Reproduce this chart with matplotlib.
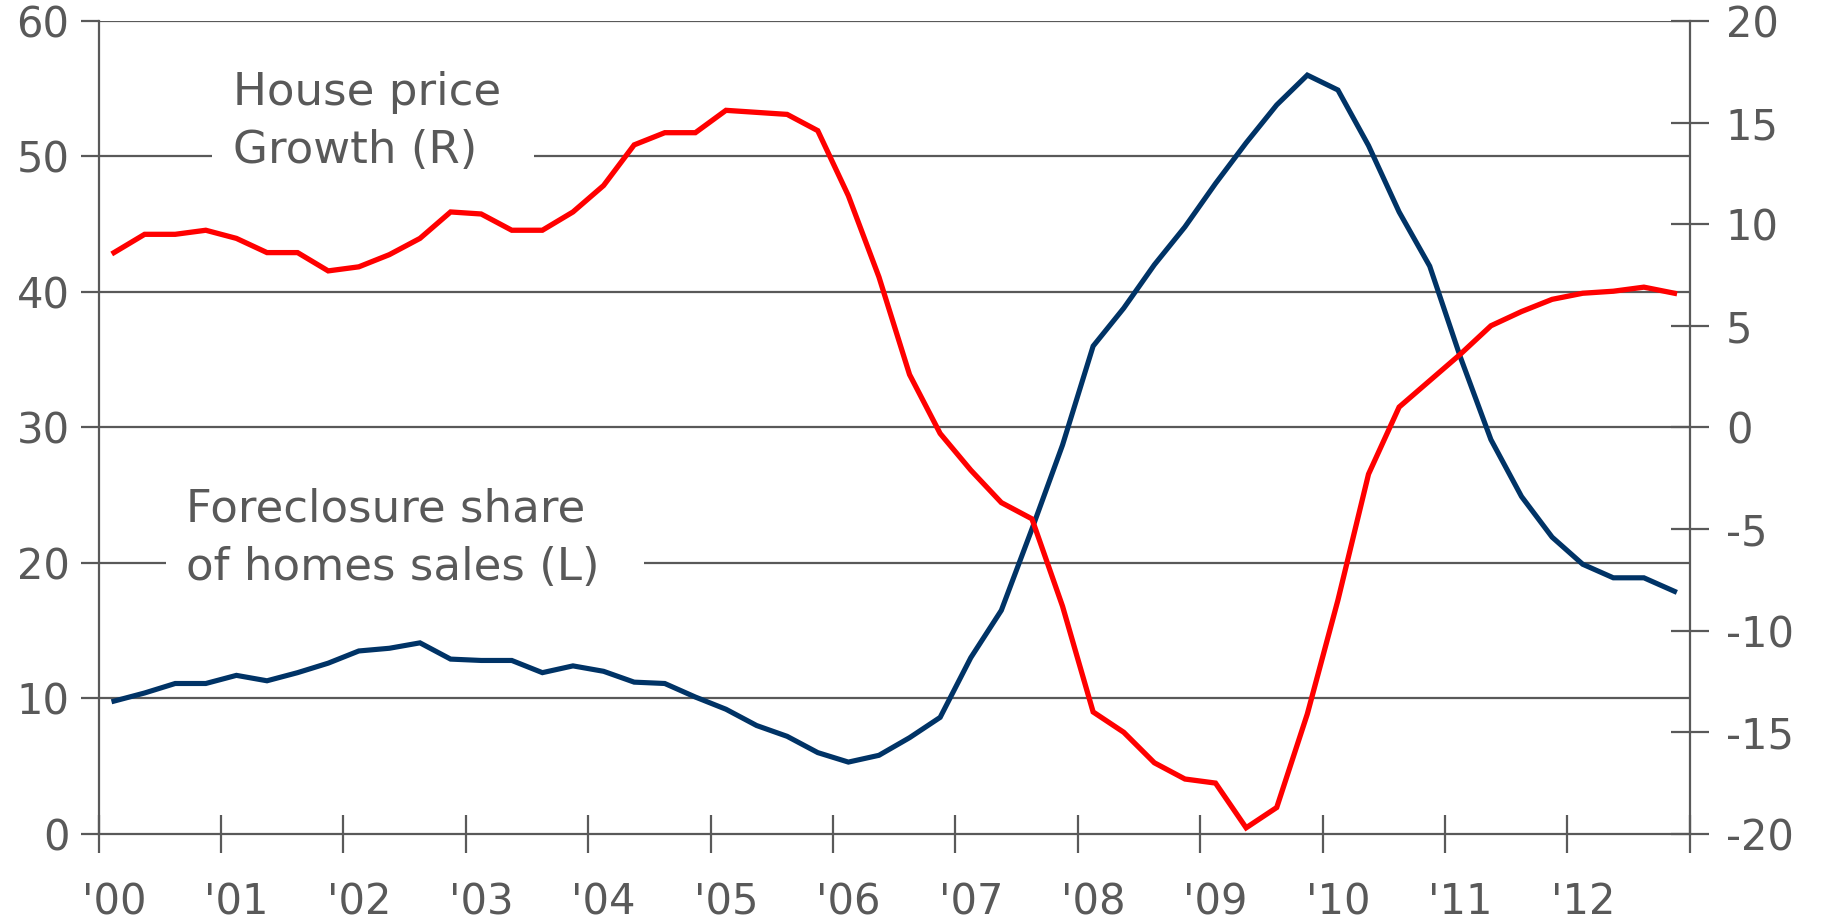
import matplotlib
matplotlib.use("Agg")
import matplotlib.pyplot as plt
from matplotlib.patches import Rectangle
import numpy as np

# ---- data (quarterly, 2000Q1 .. 2012Q4) ----
year_labels = ["'00", "'01", "'02", "'03", "'04", "'05", "'06",
               "'07", "'08", "'09", "'10", "'11", "'12"]

foreclosure_share = [
    9.8, 10.4, 11.1, 11.1, 11.7, 11.3, 11.9, 12.6,
    13.5, 13.7, 14.1, 12.9, 12.8, 12.8, 11.9, 12.4,
    12.0, 11.2, 11.1, 10.1, 9.2, 8.0, 7.2, 6.0,
    5.3, 5.8, 7.1, 8.6, 13.0, 16.5, 22.5, 28.7,
    36.0, 38.8, 42.0, 44.8, 48.0, 51.0, 53.8, 56.0,
    54.9, 50.8, 45.9, 41.9, 35.2, 29.1, 24.9, 21.9,
    19.9, 18.9, 18.9, 17.9,
]

house_price_growth = [
    8.6, 9.5, 9.5, 9.7, 9.3, 8.6, 8.6, 7.7,
    7.9, 8.5, 9.3, 10.6, 10.5, 9.7, 9.7, 10.6,
    11.9, 13.9, 14.5, 14.5, 15.6, 15.5, 15.4, 14.6,
    11.4, 7.4, 2.6, -0.3, -2.1, -3.7, -4.5, -8.8,
    -14.0, -15.0, -16.5, -17.3, -17.5, -19.7, -18.7, -14.1,
    -8.5, -2.3, 1.0, 2.3, 3.6, 5.0, 5.7, 6.3,
    6.6, 6.7, 6.9, 6.6,
]

left_ticks = [0, 10, 20, 30, 40, 50, 60]
right_ticks = [-20, -15, -10, -5, 0, 5, 10, 15, 20]

label_house = "House price\nGrowth (R)"
label_fore = "Foreclosure share\nof homes sales (L)"

# ---- style ----
GRAY = "#595959"
TXT = "#595959"
RED = "#FF0000"
BLUE = "#003366"
plt.rcParams["font.family"] = ["DejaVu Sans"]

W, H, DPI = 1821, 921, 100
fig = plt.figure(figsize=(W / DPI, H / DPI), dpi=DPI)
ax = fig.add_axes([98.7 / W, 1 - 833.9 / H, (1689.8 - 98.7) / W, (833.9 - 20.9) / H])
ax2 = ax.twinx()

n = len(foreclosure_share)
x = np.arange(n)

# grid (left axis values)
for v in left_ticks[1:]:
    ax.axhline(v, color=GRAY, lw=1.6, zorder=1)

# white gaps in gridlines behind the labels
ax.add_patch(Rectangle((0.0715, 0.80), 0.2022, 0.07, transform=ax.transAxes,
                       facecolor="white", edgecolor="none", zorder=1.5))
ax.add_patch(Rectangle((0.0423, 0.30), 0.3007, 0.07, transform=ax.transAxes,
                       facecolor="white", edgecolor="none", zorder=1.5))

ax.plot(x, foreclosure_share, color=BLUE, lw=3.7, zorder=3, solid_joinstyle="miter")
ax2.plot(x, house_price_growth, color=RED, lw=3.8, zorder=3, solid_joinstyle="miter")

ax.set_xlim(-0.5, n - 0.5)
ax.set_ylim(0, 60)
ax2.set_ylim(-20, 20)

# spines
for a in (ax, ax2):
    a.spines["top"].set_visible(False)
ax.spines["right"].set_visible(False)
ax2.spines["left"].set_visible(False)
ax2.spines["bottom"].set_visible(False)
for a, s in ((ax, "left"), (ax, "bottom"), (ax2, "right")):
    a.spines[s].set_color(GRAY)
    a.spines[s].set_linewidth(1.6)

# left ticks
ax.set_yticks(left_ticks)
ax.set_yticklabels([str(v) for v in left_ticks])
ax.tick_params(axis="y", direction="out", length=13, width=1.6, color=GRAY,
               labelsize=30, labelcolor=TXT, pad=8)

# right ticks
ax2.set_yticks(right_ticks)
ax2.set_yticklabels([str(v) for v in right_ticks])
ax2.tick_params(axis="y", direction="inout", length=28, width=1.6, color=GRAY,
                labelsize=30, labelcolor=TXT, pad=12)

# x ticks: marks between years, labels at first quarter of each year
ax.set_xticks(np.arange(-0.5, n, 4))
ax.set_xticklabels([])
ax.tick_params(axis="x", which="major", direction="inout", length=28, width=1.6, color=GRAY)
ax.set_xticks(np.arange(0, n, 4), minor=True)
ax.set_xticklabels(year_labels, minor=True)
ax.tick_params(axis="x", which="minor", length=0, labelsize=30, labelcolor=TXT, pad=34)

# annotations
ax.text(0.0847, 0.876, label_house, transform=ax.transAxes, ha="left", va="center",
        fontsize=32.5, color=TXT, linespacing=1.45, zorder=2)
ax.text(0.0547, 0.364, label_fore, transform=ax.transAxes, ha="left", va="center",
        fontsize=32.5, color=TXT, linespacing=1.45, zorder=2)

fig.savefig("out.png", dpi=DPI, facecolor="white")
